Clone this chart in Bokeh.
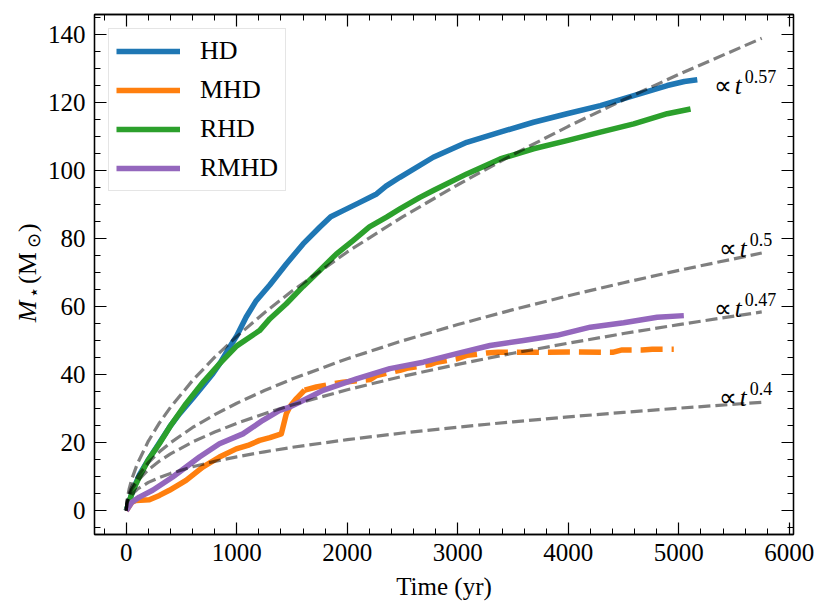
import math
from bokeh.plotting import figure
from bokeh.layouts import row
from bokeh.models import (Range1d, LinearAxis, SingleIntervalTicker, Legend, LegendItem, Label,
                          CustomLabelingPolicy)
from bokeh.core.properties import value
from bokeh.embed import file_html
from bokeh.resources import INLINE

# ---------------- data ----------------
hd_t = [0, 60, 118, 200, 300, 400, 481, 600, 700, 783, 850, 934, 1000, 1085, 1176, 1300, 1448,
        1600, 1750, 1850, 1962, 2100, 2265, 2350, 2476, 2778, 3081, 3383, 3685, 3988, 4290,
        4592, 4895, 5050, 5167]
hd_m = [0, 6, 10.5, 15, 20, 25, 28.5, 33, 37, 40.3, 43.5, 48.1, 51.5, 57, 61.8, 66.5, 72.6,
        78.5, 83.4, 86.5, 88.3, 90.5, 93.2, 95.5, 98.1, 104, 108.4, 111.4, 114.3, 116.8, 119.2,
        122.1, 125.1, 126.3, 126.8]

rhd_t = [0, 60, 118, 200, 299, 400, 541, 700, 843, 1000, 1206, 1300, 1448, 1600, 1750, 1900,
         2052, 2200, 2355, 2476, 2657, 2778, 3081, 3383, 3685, 3988, 4290, 4592, 4895, 5106]
rhd_m = [0, 6, 9.9, 15, 19.7, 25, 31.5, 38, 43.2, 48.5, 53, 56.5, 60.9, 66, 70.7, 75.5,
         79.5, 83.5, 86.4, 88.8, 92.2, 94.2, 99.1, 103.5, 106.5, 108.9, 111.4, 113.8, 116.8, 118.2]

mhd_solid_t = [0, 50, 88, 209, 300, 390, 541, 692, 843, 995, 1100, 1206, 1300, 1403, 1448,
               1478, 1540, 1614]
mhd_solid_m = [0, 2.5, 3, 3.2, 4.5, 6, 8.9, 12.8, 15.8, 18.2, 19.2, 20.7, 21.5, 22.6, 28.5,
               30.5, 33, 35.5]
mhd_dash_t = [1614, 1720, 1850, 1962, 2100, 2208, 2265, 2476, 2537, 2748, 2809, 2990, 3081,
              3262, 3365, 3564, 4000, 4400, 4487, 4668, 4759, 4954]
mhd_dash_m = [35.5, 36.4, 37.2, 37.8, 38.3, 38.6, 39.8, 41.3, 41.9, 43, 43.7, 44.7, 45.7,
              46.4, 46.6, 46.6, 46.7, 46.6, 47.3, 47.3, 47.5, 47.5]

rmhd_t = [0, 50, 118, 239, 420, 662, 843, 1055, 1236, 1388, 1478, 1599, 1780, 2083, 2385,
          2687, 2990, 3292, 3594, 3897, 4199, 4501, 4804, 5045]
rmhd_m = [0, 2.5, 4, 6, 9.9, 15.8, 19.7, 22.6, 26.6, 29.5, 30.5, 32.4, 35.4, 38.8, 41.8,
          43.7, 46.2, 48.6, 50.1, 51.6, 54, 55.3, 56.9, 57.4]

# power-law guide curves
fit_t = [0, 5, 10, 25, 50, 100, 200, 300, 400, 600, 800, 1000, 1250, 1500, 2000, 2500,
         3000, 3500, 4000, 4500, 5000, 5750]
fit_057 = [0, 2.5, 3.72, 6.26, 9.3, 13.8, 20.49, 25.82, 30.42, 38.33, 45.16, 51.29, 58.26,
           64.63, 76.14, 86.48, 95.9, 104.8, 113.1, 120.9, 128.4, 139.0]
fit_050 = [0, 2.24, 3.16, 5, 7.07, 10, 14.14, 17.32, 20, 24.49, 28.28, 31.62, 35.36, 38.73,
           44.72, 50, 54.77, 59.16, 63.25, 67.08, 70.71, 75.83]
fit_047 = [0, 2.13, 2.95, 4.54, 6.29, 8.71, 12.06, 14.6, 16.71, 20.22, 23.15, 25.7, 28.55,
           31.1, 35.6, 39.54, 43.06, 46.34, 49.29, 52.13, 54.76, 58.49]
fit_040 = [0, 1.9, 2.51, 3.62, 4.78, 6.31, 8.33, 9.79, 10.98, 12.92, 14.5, 15.85, 17.33,
           18.64, 20.91, 22.87, 24.59, 26.16, 27.6, 28.93, 30.17, 31.9]
fit_exps = ["0.57", "0.5", "0.47", "0.4"]

series_names = ["HD", "MHD", "RHD", "RMHD"]
colors = ["#1f77b4", "#ff7f0e", "#2ca02c", "#9467bd"]

FONT = "Liberation Serif"
LABEL_W = 44
TOTAL_W, TOTAL_H = 829, 612
B_TOP, B_BOTTOM = 14, 78

# ---------------- main figure ----------------
p = figure(width=TOTAL_W - LABEL_W, height=TOTAL_H, output_backend="svg", toolbar_location=None,
           x_range=Range1d(-287.5, 6037.5), y_range=Range1d(-7, 146),
           min_border_left=94 - LABEL_W, min_border_right=36, min_border_top=B_TOP,
           min_border_bottom=B_BOTTOM)
p.xgrid.visible = False
p.ygrid.visible = False
p.background_fill_color = "white"
p.border_fill_color = "white"
p.outline_line_color = "black"
p.outline_line_width = 1.3

hide_all = CustomLabelingPolicy(code="for (let i = 0; i < indices.size; i++) { indices.unset(i) } return indices")

def style_axis(ax, labels=True):
    ax.axis_line_color = "black"
    ax.axis_line_width = 1.3
    ax.major_tick_in = 12
    ax.major_tick_out = 0
    ax.minor_tick_in = 6
    ax.minor_tick_out = 0
    ax.major_tick_line_color = "black"
    ax.minor_tick_line_color = "black"
    ax.major_tick_line_width = 1.2
    ax.minor_tick_line_width = 1.0
    ax.major_label_text_font = FONT
    ax.major_label_text_color = "black"
    if labels:
        ax.major_label_text_font_size = "25px"
        ax.major_label_standoff = 9
    else:
        ax.major_label_policy = hide_all
        ax.major_label_standoff = 0

p.xaxis.ticker = SingleIntervalTicker(interval=1000, num_minor_ticks=5)
p.yaxis.ticker = SingleIntervalTicker(interval=20, num_minor_ticks=4)
style_axis(p.xaxis[0])
style_axis(p.yaxis[0])
p.xaxis.axis_label = "Time (yr)"
p.xaxis.axis_label_text_font = FONT
p.xaxis.axis_label_text_font_size = "25px"
p.xaxis.axis_label_text_font_style = "normal"
p.xaxis.axis_label_text_color = "black"
p.xaxis.axis_label_standoff = 9

top = LinearAxis(ticker=SingleIntervalTicker(interval=1000, num_minor_ticks=5))
right = LinearAxis(ticker=SingleIntervalTicker(interval=20, num_minor_ticks=4))
style_axis(top, labels=False)
style_axis(right, labels=False)
p.add_layout(top, "above")
p.add_layout(right, "right")

# ---------------- data lines ----------------
r_hd = p.line(hd_t, hd_m, line_color=colors[0], line_width=5.5, line_join="round")
r_mhd = p.line(mhd_solid_t, mhd_solid_m, line_color=colors[1], line_width=5.5, line_join="round")
p.line(mhd_dash_t, mhd_dash_m, line_color=colors[1], line_width=5.5, line_dash="22 9")
r_rhd = p.line(rhd_t, rhd_m, line_color=colors[2], line_width=5.5, line_join="round")
r_rmhd = p.line(rmhd_t, rmhd_m, line_color=colors[3], line_width=5.5, line_join="round")

for fit in (fit_057, fit_050, fit_047, fit_040):
    p.line(fit_t, fit, line_color="black", line_alpha=0.5, line_width=3.2, line_dash="12 5")

# ---------------- power-law labels ----------------
lab_pos = [(5315, 125.1), (5360, 77.1), (5315, 59.6), (5360, 33.3)]
for (lx, ly), ex in zip(lab_pos, fit_exps):
    p.add_layout(Label(x=lx, y=ly, text="∝", text_font=FONT, text_font_size="25px",
                       text_baseline="alphabetic", text_color="black"))
    p.add_layout(Label(x=lx, y=ly, x_offset=21, text="t", text_font=FONT,
                       text_font_size="25px", text_font_style="italic",
                       text_baseline="alphabetic", text_color="black"))
    p.add_layout(Label(x=lx, y=ly, x_offset=31, y_offset=9, text=ex, text_font=FONT,
                       text_font_size="18px", text_baseline="alphabetic", text_color="black"))

# ---------------- legend ----------------
legend = Legend(items=[LegendItem(label=n, renderers=[r]) for n, r in
                       zip(series_names, [r_hd, r_mhd, r_rhd, r_rmhd])],
                location="top_left")
legend.margin = 14
legend.padding = 7
legend.spacing = 9
legend.glyph_width = 64
legend.glyph_height = 30
legend.label_height = 30
legend.label_standoff = 20
legend.label_text_font = FONT
legend.label_text_font_size = "26px"
legend.label_text_color = "black"
legend.border_line_color = "#cccccc"
legend.border_line_width = 1.2
legend.background_fill_color = "white"
legend.background_fill_alpha = 0.8
p.add_layout(legend, "center")

# ---------------- y-axis title panel (rotated text with subscripts) ----------------
q = figure(width=LABEL_W, height=TOTAL_H, output_backend="svg", toolbar_location=None,
           x_range=Range1d(0, LABEL_W), y_range=p.y_range,
           min_border_left=0, min_border_right=0, min_border_top=B_TOP,
           min_border_bottom=B_BOTTOM, x_axis_type=None, y_axis_type=None)
q.outline_line_color = None
q.xgrid.visible = False
q.ygrid.visible = False
q.background_fill_color = "white"
q.border_fill_color = "white"

def ylab(px, yd, txt, size, style="normal"):
    # centred pieces, so the rotation pivot does not matter
    q.text(x=[px], y=[yd], text=[txt], angle=math.pi / 2,
           text_font=value(FONT), text_font_size=value(size),
           text_font_style=value(style), text_baseline=value("middle"),
           text_align=value("center"), text_color="black")

# pieces of  M_star (M_sun), centres along the shared y scale
ylab(26.5, 58.6, "M", "26px", "italic")
ylab(33, 64.2, "⋆", "18px")
ylab(26.5, 71.4, "(M", "26px")
ylab(33.5, 79.5, "⊙", "18px")
ylab(26.5, 83.3, ")", "26px")

layout = row(q, p)
open("out.html", "w").write(file_html(layout, INLINE))
